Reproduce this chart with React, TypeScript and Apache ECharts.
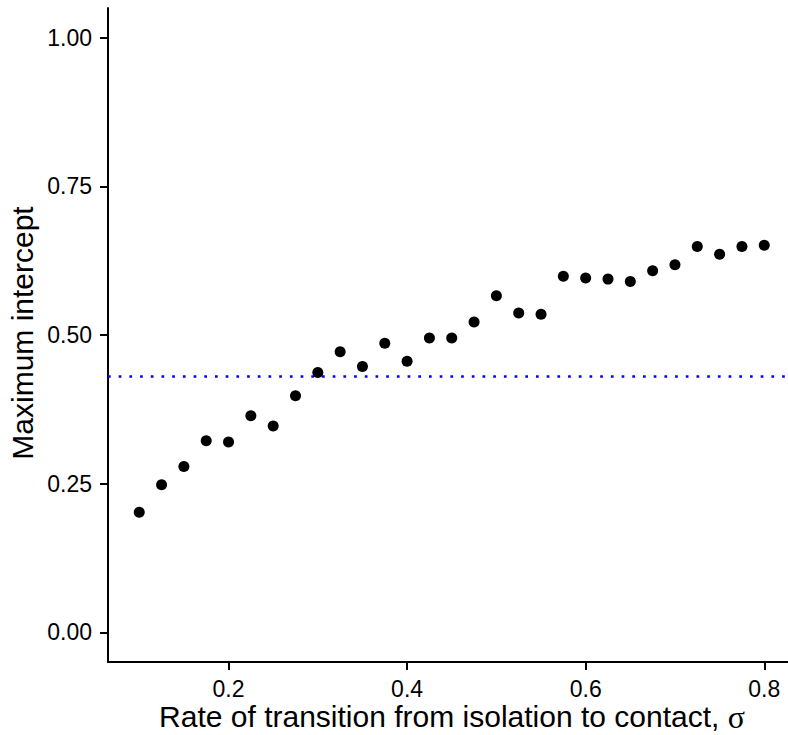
import React, { useEffect, useRef } from "react";
import * as echarts from "echarts";

const sigmaValues = [
  0.1, 0.125, 0.15, 0.175, 0.2, 0.225, 0.25, 0.275, 0.3, 0.325, 0.35, 0.375, 0.4, 0.425, 0.45,
  0.475, 0.5, 0.525, 0.55, 0.575, 0.6, 0.625, 0.65, 0.675, 0.7, 0.725, 0.75, 0.775, 0.8,
];
const maxIntercept = [
  0.202, 0.248, 0.279, 0.322, 0.32, 0.364, 0.347, 0.398, 0.437, 0.472, 0.447, 0.486, 0.456, 0.495,
  0.495, 0.522, 0.566, 0.537, 0.535, 0.599, 0.596, 0.594, 0.59, 0.608, 0.618, 0.649, 0.636, 0.649,
  0.651,
];
const referenceLevel = 0.434;
const xTicks = [0.2, 0.4, 0.6, 0.8];
const yTicks = [0, 0.25, 0.5, 0.75, 1.0];

const FONT = "'Liberation Sans', Arial, Helvetica, sans-serif";

export default function App() {
  const ref = useRef<HTMLDivElement>(null);
  useEffect(() => {
    if (!ref.current) return;
    const chart = echarts.init(ref.current, null, { renderer: "svg" });
    chart.setOption({
      animation: false,
      backgroundColor: "#ffffff",
      grid: { left: 108, top: 8, bottom: 73, right: 4.5, containLabel: false },
      xAxis: {
        type: "value",
        min: 0.065,
        max: 0.835,
        splitLine: { show: false },
        axisLine: { show: true, onZero: false, lineStyle: { color: "#000", width: 2 } },
        axisTick: { show: true, length: 8, customValues: xTicks, lineStyle: { color: "#000", width: 2 } },
        axisLabel: {
          customValues: xTicks,
          formatter: (v: number) => v.toFixed(1),
          color: "#000",
          fontSize: 23,
          fontFamily: FONT,
          margin: 15,
        },
      },
      yAxis: {
        type: "value",
        min: -0.05,
        max: 1.05,
        splitLine: { show: false },
        axisLine: { show: true, onZero: false, lineStyle: { color: "#000", width: 2 } },
        axisTick: { show: true, length: 8, customValues: yTicks, lineStyle: { color: "#000", width: 2 } },
        axisLabel: {
          customValues: yTicks,
          formatter: (v: number) => v.toFixed(2),
          color: "#000",
          fontSize: 23,
          fontFamily: FONT,
          margin: 16,
        },
      },
      series: [
        {
          type: "scatter",
          data: sigmaValues.map((s, i) => [s, maxIntercept[i]]),
          symbol: "circle",
          symbolSize: 11,
          itemStyle: { color: "#000", opacity: 1 },
          markLine: {
            silent: true,
            symbol: "none",
            label: { show: false },
            lineStyle: { color: "#0000ff", width: 2.7, type: [2.7, 8], opacity: 1 },
            data: [{ yAxis: referenceLevel }],
          },
        },
      ],
      graphic: [
        {
          type: "text",
          x: 452,
          y: 716.5,
          style: {
            text: "Rate of transition from isolation to contact, {s|σ}",
            fontSize: 30,
            fontFamily: FONT,
            fill: "#000",
            align: "center",
            verticalAlign: "middle",
            rich: {
              s: { fontSize: 32, fontFamily: "'Liberation Serif', 'DejaVu Serif', serif", fill: "#000" },
            },
          },
        },
        {
          type: "text",
          x: 22.6,
          y: 333,
          rotation: Math.PI / 2,
          style: {
            text: "Maximum intercept",
            fontSize: 30,
            fontFamily: FONT,
            fill: "#000",
            align: "center",
            verticalAlign: "middle",
          },
        },
      ],
    });
    return () => chart.dispose();
  }, []);
  return (
    <div style={{ position: "absolute", left: 0, top: 0, width: 788, height: 735, overflow: "hidden", background: "#fff" }}>
      <div ref={ref} style={{ width: 800, height: 735 }} />
    </div>
  );
}
